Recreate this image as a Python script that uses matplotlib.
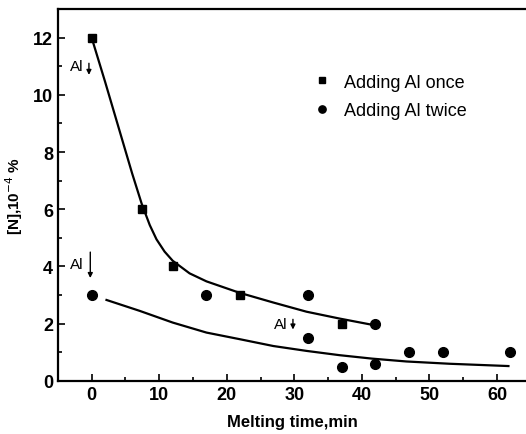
import matplotlib
matplotlib.use("Agg")
import matplotlib.pyplot as plt
from matplotlib.ticker import MultipleLocator

plt.rcParams['font.family'] = ['Liberation Sans', 'DejaVu Sans']

# Measured points
once_x = [0, 7.5, 12, 22, 37]
once_y = [12, 6, 4, 3, 2]
twice_x = [0, 17, 32, 32, 37, 42, 42, 47, 52, 62]
twice_y = [3, 3, 3, 1.5, 0.5, 0.6, 2, 1, 1, 1]

# Fitted curves
fit_once_x = [0, 2, 4, 6, 7.4, 8.6, 9.6, 10.8, 12.0, 14.5, 17.0, 21.9, 26.9, 31.8, 36.7, 41.8]
fit_once_y = [12, 10.45, 8.85, 7.25, 6.2, 5.45, 4.95, 4.52, 4.2, 3.76, 3.48, 3.08, 2.74, 2.42, 2.18, 1.95]
fit_twice_x = [2.2, 7.1, 12, 17, 21.9, 26.9, 31.8, 36.7, 41.5, 46.6, 53, 61.7]
fit_twice_y = [2.83, 2.45, 2.04, 1.69, 1.46, 1.22, 1.05, 0.9, 0.78, 0.68, 0.6, 0.52]

fig = plt.figure(figsize=(5.26, 4.35), dpi=100)
ax = fig.add_axes([0.110, 0.122, 0.890, 0.855])

ax.plot(fit_once_x, fit_once_y, color='black', lw=1.6)
ax.plot(fit_twice_x, fit_twice_y, color='black', lw=1.6)
ax.plot(once_x, once_y, 's', color='black', ms=6, ls='none', label='Adding Al once')
ax.plot(twice_x, twice_y, 'o', color='black', ms=7, ls='none', label='Adding Al twice')

ax.set_xlim(-5, 64.3)
ax.set_ylim(0, 13)
ax.xaxis.set_major_locator(MultipleLocator(10))
ax.xaxis.set_minor_locator(MultipleLocator(5))
ax.yaxis.set_major_locator(MultipleLocator(2))
ax.yaxis.set_minor_locator(MultipleLocator(1))
ax.tick_params(which='both', direction='in', width=1.2, labelsize=13)
ax.tick_params(which='major', length=5)
ax.tick_params(which='minor', length=3)
for lab in ax.get_xticklabels() + ax.get_yticklabels():
    lab.set_fontweight('bold')
ax.spines['right'].set_visible(False)
for s in ['left', 'bottom', 'top']:
    ax.spines[s].set_linewidth(1.6)

ax.set_xlabel('Melting time,min', fontsize=12, fontweight='bold', labelpad=8)
ax.set_ylabel('[N],10$^{-4}$ %', fontsize=11, fontweight='bold', labelpad=6)

leg = ax.legend(loc='upper left', bbox_to_anchor=(0.526, 0.846), frameon=False,
                fontsize=13, handletextpad=0.6, labelspacing=0.65, handlelength=1.2,
                markerscale=0.75, borderaxespad=0)

# Al addition annotations
ax.text(-1.2, 11.0, 'Al', ha='right', va='center', fontsize=11)
ax.annotate('', xy=(-0.4, 10.6), xytext=(-0.4, 11.2),
            arrowprops=dict(arrowstyle='-|>', color='black', lw=1, mutation_scale=7))
ax.text(-1.2, 4.1, 'Al', ha='right', va='center', fontsize=11)
ax.annotate('', xy=(-0.2, 3.5), xytext=(-0.2, 4.6),
            arrowprops=dict(arrowstyle='-|>', color='black', lw=1, mutation_scale=7))
ax.text(29.0, 2.0, 'Al', ha='right', va='center', fontsize=11)
ax.annotate('', xy=(29.8, 1.7), xytext=(29.8, 2.25),
            arrowprops=dict(arrowstyle='-|>', color='black', lw=1, mutation_scale=7))

fig.savefig('out.png', dpi=100)
